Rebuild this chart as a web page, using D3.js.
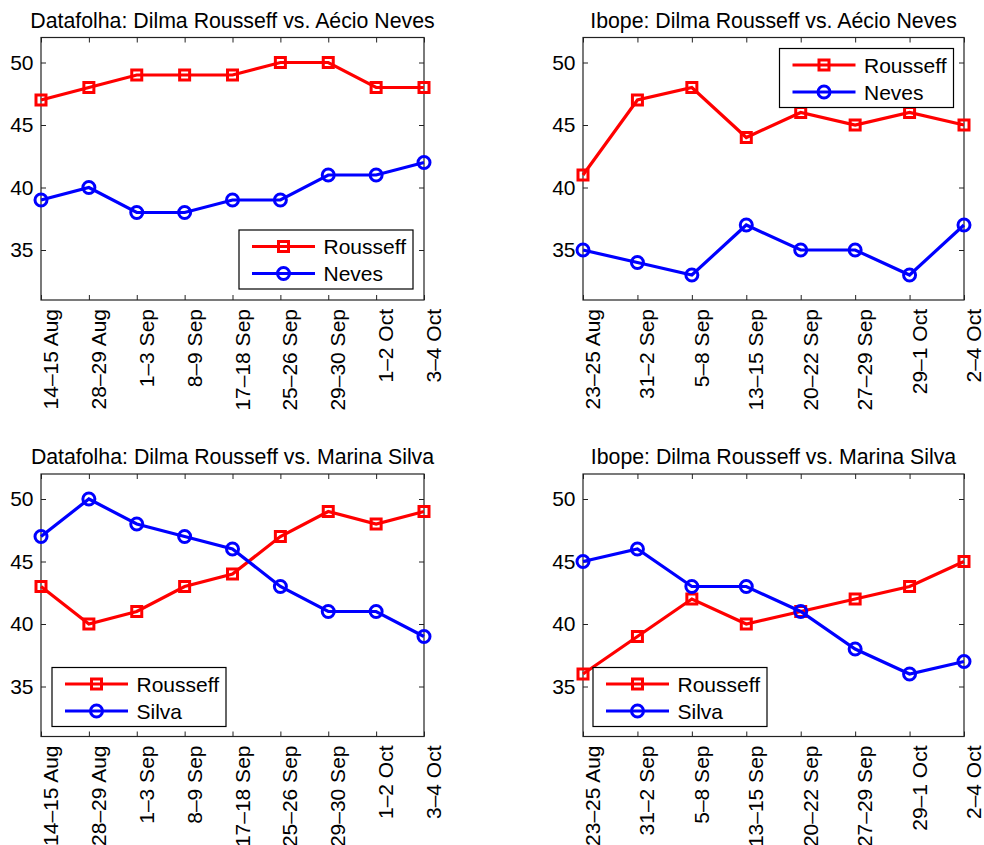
<!DOCTYPE html>
<html>
<head>
<meta charset="utf-8">
<script src="https://cdn.jsdelivr.net/npm/d3@7"></script>
<style>
  body { margin: 0; background: #fff; }
  svg text { font-family: "Liberation Sans", Arial, Helvetica, sans-serif; fill: #000; }
</style>
</head>
<body>
<svg id="chart" width="984" height="845"></svg>
<script>
// poll dates
const datafolhaDates = ["14–15 Aug", "28–29 Aug", "1–3 Sep", "8–9 Sep", "17–18 Sep", "25–26 Sep", "29–30 Sep", "1–2 Oct", "3–4 Oct"];
const ibopeDates = ["23–25 Aug", "31–2 Sep", "5–8 Sep", "13–15 Sep", "20–22 Sep", "27–29 Sep", "29–1 Oct", "2–4 Oct"];

// Datafolha: Rousseff vs Neves
const dfRousseffA = [47, 48, 49, 49, 49, 50, 50, 48, 48];
const dfNeves = [39, 40, 38, 38, 39, 39, 41, 41, 42];
// Ibope: Rousseff vs Neves
const ibRousseffA = [41, 47, 48, 44, 46, 45, 46, 45];
const ibNeves = [35, 34, 33, 37, 35, 35, 33, 37];
// Datafolha: Rousseff vs Silva
const dfRousseffS = [43, 40, 41, 43, 44, 47, 49, 48, 49];
const dfSilva = [47, 50, 48, 47, 46, 43, 41, 41, 39];
// Ibope: Rousseff vs Silva
const ibRousseffS = [36, 39, 42, 40, 41, 42, 43, 45];
const ibSilva = [45, 46, 43, 43, 41, 38, 36, 37];

const yTicks = [35, 40, 45, 50];
const yDomain = [31, 52];

const svg = d3.select("#chart");

// one subplot per panel
const panels = [
    { title: "Datafolha: Dilma Rousseff vs. Aécio Neves", dates: datafolhaDates,
      red: dfRousseffA, blue: dfNeves, other: "Neves",
      box: { x0: 41, x1: 424, y0: 37.5, y1: 300 }, legend: { x: 239, y: 230 } },
    { title: "Ibope: Dilma Rousseff vs. Aécio Neves", dates: ibopeDates,
      red: ibRousseffA, blue: ibNeves, other: "Neves",
      box: { x0: 583, x1: 964, y0: 37.5, y1: 300 }, legend: { x: 779.5, y: 48.5 } },
    { title: "Datafolha: Dilma Rousseff vs. Marina Silva", dates: datafolhaDates,
      red: dfRousseffS, blue: dfSilva, other: "Silva",
      box: { x0: 41, x1: 424, y0: 474, y1: 736.5 }, legend: { x: 52, y: 667.5 } },
    { title: "Ibope: Dilma Rousseff vs. Marina Silva", dates: ibopeDates,
      red: ibRousseffS, blue: ibSilva, other: "Silva",
      box: { x0: 583, x1: 964, y0: 474, y1: 736.5 }, legend: { x: 593, y: 667.5 } }
];

panels.forEach(p => drawPanel(p));

function drawPanel(p) {
    const b = p.box;
    const x = d3.scalePoint().domain(p.dates).range([b.x0, b.x1]);
    const y = d3.scaleLinear().domain(yDomain).range([b.y1, b.y0]);
    const g = svg.append("g");

    // title
    g.append("text")
        .attr("x", (b.x0 + b.x1) / 2)
        .attr("y", b.y0 - 10)
        .attr("text-anchor", "middle")
        .style("font-size", "21.3px")
        .text(p.title);

    // axes with inward ticks on all four sides
    const tickLen = 5;
    g.append("g").attr("transform", `translate(0,${b.y1})`)
        .call(d3.axisBottom(x).tickSizeInner(-tickLen).tickSizeOuter(0).tickFormat(""))
        .call(ax => ax.select(".domain").remove());
    g.append("g").attr("transform", `translate(0,${b.y0})`)
        .call(d3.axisTop(x).tickSizeInner(-tickLen).tickSizeOuter(0).tickFormat(""))
        .call(ax => ax.select(".domain").remove());
    g.append("g").attr("transform", `translate(${b.x0},0)`)
        .call(d3.axisLeft(y).tickValues(yTicks).tickSizeInner(-tickLen).tickSizeOuter(0).tickPadding(7.5))
        .call(ax => ax.select(".domain").remove())
        .call(ax => ax.selectAll("text").style("font-size", "21px").attr("font-family", null).attr("fill", "#000"));
    g.append("g").attr("transform", `translate(${b.x1},0)`)
        .call(d3.axisRight(y).tickValues(yTicks).tickSizeInner(-tickLen).tickSizeOuter(0).tickFormat(""))
        .call(ax => ax.select(".domain").remove());
    g.selectAll(".tick line").attr("stroke", "#222").attr("stroke-width", 1);

    // rotated date labels
    g.selectAll(".xlab")
        .data(p.dates)
        .enter()
        .append("text")
        .attr("class", "xlab")
        .attr("transform", d => `translate(${x(d) + 17},${b.y1 + 9}) rotate(-90)`)
        .attr("text-anchor", "end")
        .style("font-size", "21px")
        .text(d => d);

    // plot frame
    g.append("rect")
        .attr("x", b.x0).attr("y", b.y0)
        .attr("width", b.x1 - b.x0).attr("height", b.y1 - b.y0)
        .attr("fill", "none").attr("stroke", "#222").attr("stroke-width", 1.2);

    const line = d3.line().x((d, i) => x(p.dates[i])).y(d => y(d));

    // Rousseff (red squares)
    g.append("path").datum(p.red).attr("d", line)
        .attr("fill", "none").attr("stroke", "#ff0000").attr("stroke-width", 3.2);
    g.selectAll(".sq").data(p.red).enter().append("rect")
        .attr("class", "sq")
        .attr("x", (d, i) => x(p.dates[i]) - 5).attr("y", d => y(d) - 5)
        .attr("width", 10).attr("height", 10)
        .attr("fill", "none").attr("stroke", "#ff0000").attr("stroke-width", 3);

    // challenger (blue circles)
    g.append("path").datum(p.blue).attr("d", line)
        .attr("fill", "none").attr("stroke", "#0000ff").attr("stroke-width", 3.2);
    g.selectAll(".ci").data(p.blue).enter().append("circle")
        .attr("class", "ci")
        .attr("cx", (d, i) => x(p.dates[i])).attr("cy", d => y(d))
        .attr("r", 6)
        .attr("fill", "none").attr("stroke", "#0000ff").attr("stroke-width", 3);

    // legend
    const lg = g.append("g").attr("transform", `translate(${p.legend.x},${p.legend.y})`);
    lg.append("rect")
        .attr("width", 174).attr("height", 59)
        .attr("fill", "#fff").attr("stroke", "#000").attr("stroke-width", 1.2);
    const entries = [
        { name: "Rousseff", color: "#ff0000", marker: "square", dy: 16.5 },
        { name: p.other, color: "#0000ff", marker: "circle", dy: 43.5 }
    ];
    entries.forEach(e => {
        lg.append("line")
            .attr("x1", 13).attr("x2", 76).attr("y1", e.dy).attr("y2", e.dy)
            .attr("stroke", e.color).attr("stroke-width", 3.2);
        if (e.marker === "square") {
            lg.append("rect").attr("x", 44.5 - 5).attr("y", e.dy - 5).attr("width", 10).attr("height", 10)
                .attr("fill", "none").attr("stroke", e.color).attr("stroke-width", 3);
        } else {
            lg.append("circle").attr("cx", 44.5).attr("cy", e.dy).attr("r", 6)
                .attr("fill", "none").attr("stroke", e.color).attr("stroke-width", 3);
        }
        lg.append("text")
            .attr("x", 84.5).attr("y", e.dy + 7.5)
            .style("font-size", "21px")
            .text(e.name);
    });
}
</script>
</body>
</html>
